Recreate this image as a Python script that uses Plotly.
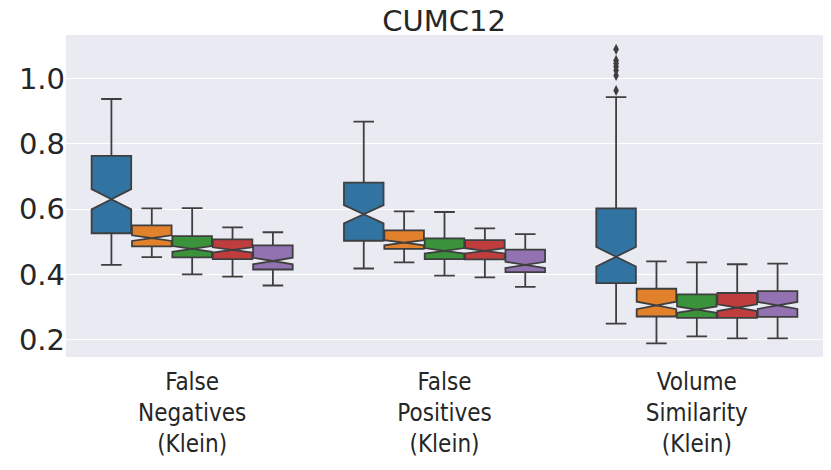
import plotly.graph_objects as go

categories = ["False<br>Negatives<br>(Klein)", "False<br>Positives<br>(Klein)", "Volume<br>Similarity<br>(Klein)"]
hues = ["m1", "m2", "m3", "m4", "m5"]
colors = ["#3274a1", "#e1812c", "#3a923a", "#c03d3e", "#9372b2"]

# per hue: values for [FN, FP, VS]
q1 = [
    [0.526, 0.503, 0.373],
    [0.486, 0.478, 0.271],
    [0.452, 0.447, 0.267],
    [0.447, 0.446, 0.267],
    [0.415, 0.407, 0.270],
]
median = [
    [0.630, 0.584, 0.454],
    [0.511, 0.497, 0.305],
    [0.478, 0.472, 0.292],
    [0.475, 0.472, 0.298],
    [0.441, 0.429, 0.305],
]
q3 = [
    [0.763, 0.681, 0.602],
    [0.550, 0.535, 0.356],
    [0.517, 0.510, 0.339],
    [0.507, 0.505, 0.343],
    [0.489, 0.476, 0.349],
]
lower = [
    [0.429, 0.418, 0.249],
    [0.453, 0.437, 0.189],
    [0.400, 0.396, 0.210],
    [0.393, 0.391, 0.204],
    [0.366, 0.362, 0.204],
]
upper = [
    [0.937, 0.868, 0.943],
    [0.602, 0.593, 0.440],
    [0.603, 0.591, 0.437],
    [0.544, 0.541, 0.431],
    [0.529, 0.523, 0.433],
]
notch = [
    [0.031, 0.028, 0.030],
    [0.0087, 0.008, 0.0115],
    [0.0088, 0.0085, 0.0097],
    [0.008, 0.008, 0.0103],
    [0.010, 0.0095, 0.0107],
]
# outliers: (category index, hue index, values)
outlier_cat = 2
outlier_hue = 0
outlier_vals = [1.089, 1.055, 1.046, 1.036, 1.025, 1.009, 0.963]

LINE = "#3f3f3f"
GROUP_W = 0.8
n_h = len(hues)
slot = GROUP_W / n_h
pos = list(range(len(categories)))

fig = go.Figure()
for i, h in enumerate(hues):
    off = -GROUP_W / 2 + slot * (i + 0.5)
    fig.add_trace(go.Box(
        name=h,
        x=[p + off for p in pos],
        q1=q1[i], median=median[i], q3=q3[i],
        lowerfence=lower[i], upperfence=upper[i],
        notchspan=notch[i], notched=True, notchwidth=0.5,
        width=slot * 0.98,
        boxpoints=False,
        fillcolor=colors[i],
        line=dict(color=LINE, width=1.8),
        whiskerwidth=0.52,
        showlegend=False,
        hoverinfo="skip",
    ))

off0 = -GROUP_W / 2 + slot * (outlier_hue + 0.5)
fig.add_trace(go.Scatter(
    x=[pos[outlier_cat] + off0] * len(outlier_vals),
    y=outlier_vals,
    mode="markers",
    marker=dict(symbol="diamond-tall", size=8, color=LINE, line=dict(width=0)),
    showlegend=False, hoverinfo="skip",
))

fig.update_layout(
    width=823, height=462,
    margin=dict(l=58, r=8, t=27, b=113),
    paper_bgcolor="white",
    plot_bgcolor="#eaeaf2",
    boxmode="overlay",
    title=dict(text="CUMC12", x=0.5298, xanchor="center", y=0.972, yanchor="middle",
               font=dict(family="DejaVu Sans", size=29, color="#262626")),
    font=dict(family="DejaVu Sans", color="#262626"),
)
fig.update_xaxes(
    showgrid=False, zeroline=False, showline=False,
    ticks="outside", ticklen=3, tickcolor="rgba(0,0,0,0)",
    automargin=False,
    tickmode="array", tickvals=pos, ticktext=categories,
    tickfont=dict(family="DejaVu Sans Condensed, DejaVu Sans", size=24, color="#262626"),
    range=[-0.5, 2.5],
)
fig.update_yaxes(
    range=[0.147, 1.133],
    tickvals=[0.2, 0.4, 0.6, 0.8, 1.0],
    ticktext=["0.2", "0.4", "0.6", "0.8", "1.0"],
    showgrid=True, gridcolor="white", gridwidth=1.2,
    zeroline=False, showline=False, automargin=False,
    ticks="",
    tickfont=dict(family="DejaVu Sans", size=29, color="#262626"),
)

fig.write_html("out.html")
